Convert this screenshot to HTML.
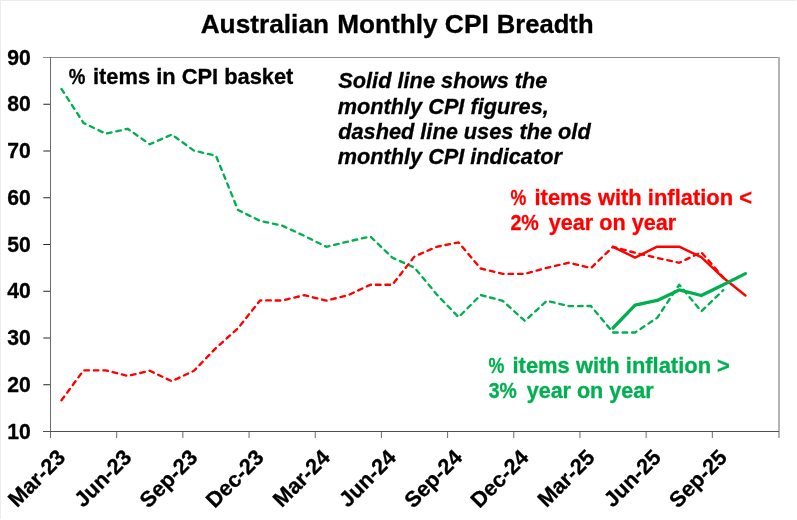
<!DOCTYPE html>
<html lang="en">
<head>
<meta charset="utf-8">
<title>Australian Monthly CPI Breadth</title>
<style>
html,body{margin:0;padding:0;background:#fff;}
body{width:797px;height:520px;overflow:hidden;}
svg{display:block;}
text{font-family:'Liberation Sans', Arial, sans-serif;font-weight:bold;stroke-width:0.3px;stroke-linejoin:round;}
</style>
</head>
<body>
<svg width="797" height="520" viewBox="0 0 797 520">
<rect x="0" y="0" width="797" height="520" fill="#ffffff"/>
<rect x="0" y="0" width="796" height="1" fill="#ededed"/>
<rect x="0" y="0" width="1" height="519" fill="#ededed"/>

<g shape-rendering="crispEdges">
<rect x="43" y="57" width="736" height="1" fill="#8c8c8c"/>
<rect x="778" y="57" width="2" height="381" fill="#b4b4b4"/>
<rect x="50" y="57" width="1" height="381" fill="#6c6c6c"/>
<rect x="43" y="431" width="736" height="1" fill="#505050"/>
</g>
<rect x="43.3" y="103.75" width="6.7" height="1" fill="#262626"/>
<rect x="43.3" y="150.50" width="6.7" height="1" fill="#262626"/>
<rect x="43.3" y="197.25" width="6.7" height="1" fill="#262626"/>
<rect x="43.3" y="244.00" width="6.7" height="1" fill="#262626"/>
<rect x="43.3" y="290.75" width="6.7" height="1" fill="#262626"/>
<rect x="43.3" y="337.50" width="6.7" height="1" fill="#262626"/>
<rect x="43.3" y="384.25" width="6.7" height="1" fill="#262626"/>
<rect x="116.18" y="432" width="1" height="6" fill="#6c6c6c"/>
<rect x="182.36" y="432" width="1" height="6" fill="#6c6c6c"/>
<rect x="248.55" y="432" width="1" height="6" fill="#6c6c6c"/>
<rect x="314.73" y="432" width="1" height="6" fill="#6c6c6c"/>
<rect x="380.91" y="432" width="1" height="6" fill="#6c6c6c"/>
<rect x="447.09" y="432" width="1" height="6" fill="#6c6c6c"/>
<rect x="513.27" y="432" width="1" height="6" fill="#6c6c6c"/>
<rect x="579.45" y="432" width="1" height="6" fill="#6c6c6c"/>
<rect x="645.64" y="432" width="1" height="6" fill="#6c6c6c"/>
<rect x="711.82" y="432" width="1" height="6" fill="#6c6c6c"/>
<text transform="translate(30.9,64.65) scale(0.95,1)" font-size="22.3" text-anchor="end" stroke="#000">90</text>
<text transform="translate(30.9,111.40) scale(0.95,1)" font-size="22.3" text-anchor="end" stroke="#000">80</text>
<text transform="translate(30.9,158.15) scale(0.95,1)" font-size="22.3" text-anchor="end" stroke="#000">70</text>
<text transform="translate(30.9,204.90) scale(0.95,1)" font-size="22.3" text-anchor="end" stroke="#000">60</text>
<text transform="translate(30.9,251.65) scale(0.95,1)" font-size="22.3" text-anchor="end" stroke="#000">50</text>
<text transform="translate(30.9,298.40) scale(0.95,1)" font-size="22.3" text-anchor="end" stroke="#000">40</text>
<text transform="translate(30.9,345.15) scale(0.95,1)" font-size="22.3" text-anchor="end" stroke="#000">30</text>
<text transform="translate(30.9,391.90) scale(0.95,1)" font-size="22.3" text-anchor="end" stroke="#000">20</text>
<text transform="translate(30.9,438.65) scale(0.95,1)" font-size="22.3" text-anchor="end" stroke="#000">10</text>
<text transform="translate(66.5,458.8) rotate(-45) scale(1,1)" font-size="21.7" text-anchor="end" stroke="#000">Mar-23</text>
<text transform="translate(132.7,458.8) rotate(-45) scale(1,1)" font-size="21.7" text-anchor="end" stroke="#000">Jun-23</text>
<text transform="translate(198.9,458.8) rotate(-45) scale(1,1)" font-size="21.7" text-anchor="end" stroke="#000">Sep-23</text>
<text transform="translate(265.1,458.8) rotate(-45) scale(1,1)" font-size="21.7" text-anchor="end" stroke="#000">Dec-23</text>
<text transform="translate(331.3,458.8) rotate(-45) scale(1,1)" font-size="21.7" text-anchor="end" stroke="#000">Mar-24</text>
<text transform="translate(397.4,458.8) rotate(-45) scale(1,1)" font-size="21.7" text-anchor="end" stroke="#000">Jun-24</text>
<text transform="translate(463.6,458.8) rotate(-45) scale(1,1)" font-size="21.7" text-anchor="end" stroke="#000">Sep-24</text>
<text transform="translate(529.8,458.8) rotate(-45) scale(1,1)" font-size="21.7" text-anchor="end" stroke="#000">Dec-24</text>
<text transform="translate(596.0,458.8) rotate(-45) scale(1,1)" font-size="21.7" text-anchor="end" stroke="#000">Mar-25</text>
<text transform="translate(662.2,458.8) rotate(-45) scale(1,1)" font-size="21.7" text-anchor="end" stroke="#000">Jun-25</text>
<text transform="translate(728.3,458.8) rotate(-45) scale(1,1)" font-size="21.7" text-anchor="end" stroke="#000">Sep-25</text>
<polyline points="61.5,89.0 83.6,123.0 105.7,133.7 127.7,128.8 149.8,144.3 171.8,134.5 193.9,150.6 216.0,155.8 238.0,210.0 260.1,220.9 282.1,225.6 304.2,235.8 326.3,246.8 348.3,241.5 370.4,236.5 392.4,257.7 414.5,267.6 436.6,294.3 458.6,317.2 480.7,295.0 502.7,300.8 524.8,320.9 546.9,300.8 568.9,306.1 591.0,306.0 613.0,332.5 635.1,332.5 657.2,317.8 679.2,284.7 701.3,311.3 723.3,290.2" fill="none" stroke="#00B050" stroke-width="2.35" stroke-dasharray="4.6 4.9" stroke-linecap="round" stroke-linejoin="round"/>
<polyline points="61.5,400.3 83.6,370.3 105.7,370.3 127.7,375.9 149.8,370.8 171.8,381.2 193.9,370.8 216.0,348.0 238.0,328.3 260.1,300.4 282.1,300.5 304.2,295.2 326.3,300.6 348.3,295.1 370.4,284.7 392.4,284.7 414.5,256.5 436.6,246.8 458.6,242.4 480.7,268.5 502.7,273.8 524.8,273.8 546.9,267.8 568.9,262.7 591.0,268.0 613.0,246.8 635.1,252.8 657.2,257.9 679.2,262.8 701.3,252.2 723.3,277.4" fill="none" stroke="#FF0000" stroke-width="2.35" stroke-dasharray="4.6 4.9" stroke-linecap="round" stroke-linejoin="round"/>
<polyline points="613.0,246.8 635.1,257.6 657.2,246.7 679.2,246.7 701.3,257.2 723.3,277.8 745.4,295.5" fill="none" stroke="#FF0000" stroke-width="2.4" stroke-linejoin="round" stroke-linecap="round"/>
<polyline points="613.0,328.0 635.1,305.2 657.2,300.4 679.2,289.9 701.3,295.5 723.3,284.7 745.4,273.6" fill="none" stroke="#00B050" stroke-width="3.3" stroke-linejoin="round" stroke-linecap="round"/>
<text y="32.7" font-size="26.0" fill="#000" stroke="#000" xml:space="preserve"><tspan id="t1" x="200.66" textLength="135.67" lengthAdjust="spacingAndGlyphs">Australian </tspan><tspan id="t2" x="337.16" textLength="107.62" lengthAdjust="spacingAndGlyphs">Monthly </tspan><tspan id="t3" x="444.84" textLength="51.43" lengthAdjust="spacingAndGlyphs">CPI </tspan><tspan id="t4" x="496.83" textLength="96.70" lengthAdjust="spacingAndGlyphs">Breadth</tspan></text>
<text y="84.4" font-size="21.7" fill="#000" stroke="#000" xml:space="preserve"><tspan id="b_a" x="68.73" textLength="21.77" lengthAdjust="spacingAndGlyphs">% </tspan><tspan id="b_b" x="92.98" textLength="200.42" lengthAdjust="spacingAndGlyphs">items in CPI basket</tspan></text>
<text y="88.3" font-size="21.7" fill="#000" stroke="#000" font-style="italic" xml:space="preserve"><tspan id="it1" x="338.27" textLength="209.16" lengthAdjust="spacingAndGlyphs">Solid line shows the</tspan></text>
<text y="113.7" font-size="21.7" fill="#000" stroke="#000" font-style="italic" xml:space="preserve"><tspan id="it2" x="337.82" textLength="210.96" lengthAdjust="spacingAndGlyphs">monthly CPI figures,</tspan></text>
<text y="139.1" font-size="21.7" fill="#000" stroke="#000" font-style="italic" xml:space="preserve"><tspan id="it3" x="338.17" textLength="252.54" lengthAdjust="spacingAndGlyphs">dashed line uses the old</tspan></text>
<text y="163.8" font-size="21.7" fill="#000" stroke="#000" font-style="italic" xml:space="preserve"><tspan id="it4" x="337.82" textLength="224.02" lengthAdjust="spacingAndGlyphs">monthly CPI indicator</tspan></text>
<text y="205.1" font-size="21.7" fill="#FF0000" stroke="#FF0000" xml:space="preserve"><tspan id="r1_a" x="510.54" textLength="20.74" lengthAdjust="spacingAndGlyphs">% </tspan><tspan id="r1_b" x="534.51" textLength="217.54" lengthAdjust="spacingAndGlyphs">items with inflation &lt;</tspan></text>
<text y="229.7" font-size="21.7" fill="#FF0000" stroke="#FF0000" xml:space="preserve"><tspan id="r2_a" x="510.42" textLength="33.92" lengthAdjust="spacingAndGlyphs">2% </tspan><tspan id="r2_b" x="548.64" textLength="127.63" lengthAdjust="spacingAndGlyphs">year on year</tspan></text>
<text y="372.8" font-size="21.7" fill="#00B050" stroke="#00B050" xml:space="preserve"><tspan id="g1_a" x="488.61" textLength="20.73" lengthAdjust="spacingAndGlyphs">% </tspan><tspan id="g1_b" x="512.54" textLength="217.38" lengthAdjust="spacingAndGlyphs">items with inflation &gt;</tspan></text>
<text y="397.6" font-size="21.7" fill="#00B050" stroke="#00B050" xml:space="preserve"><tspan id="g2_a" x="488.69" textLength="33.43" lengthAdjust="spacingAndGlyphs">3% </tspan><tspan id="g2_b" x="526.70" textLength="126.87" lengthAdjust="spacingAndGlyphs">year on year</tspan></text>
</svg>
</body>
</html>
